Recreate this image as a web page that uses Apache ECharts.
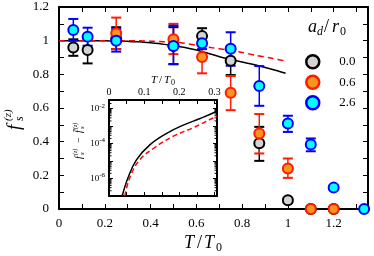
<!DOCTYPE html>
<html><head><meta charset="utf-8">
<script src="https://cdn.jsdelivr.net/npm/echarts@6.0.0/dist/echarts.min.js"></script>
<style>html,body{margin:0;padding:0;background:#fff}#c{width:374px;height:256px}</style>
</head><body><div id="c"></div>
<script>
// ---- data ----
const seriesNames = ['0.0', '0.6', '2.6'];
const gT  = [0.0625, 0.125, 0.25, 0.5, 0.625, 0.75, 0.875, 1.0, 1.1, 1.2];
const gY  = [0.96, 0.945, 1.01, 0.97, 1.027, 0.88, 0.39, 0.052, 0, 0];
const gLo = [0.91, 0.865, 0.95, 0.86, 0.98, 0.796, 0.286, 0.045, 0, 0];
const gHi = [1.008, 1.012, 1.08, 1.08, 1.074, 0.965, 0.488, 0.06, 0, 0];
const oT  = [0.25, 0.5, 0.625, 0.75, 0.875, 1.0, 1.1, 1.2];
const oY  = [1.044, 1.008, 0.903, 0.69, 0.449, 0.24, 0, 0];
const oLo = [0.95, 0.92, 0.806, 0.587, 0.33, 0.185, 0, 0];
const oHi = [1.137, 1.10, 1.0, 0.79, 0.564, 0.30, 0, 0];
const cT  = [0.0625, 0.125, 0.25, 0.5, 0.625, 0.75, 0.875, 1.0, 1.1, 1.2, 1.333];
const cY  = [1.064, 1.024, 1.0, 0.968, 0.984, 0.952, 0.73, 0.508, 0.383, 0.127, 0];
const cLo = [1.0, 0.97, 0.935, 0.861, 0.95, 0.851, 0.613, 0.458, 0.343, 0.115, 0];
const cHi = [1.129, 1.077, 1.07, 1.089, 1.02, 1.05, 0.849, 0.554, 0.419, 0.14, 0];
// main curves
const curveT = [0, 0.1, 0.2, 0.25, 0.3, 0.35, 0.4, 0.46, 0.53, 0.6, 0.67, 0.73, 0.8, 0.86, 0.93, 0.99];
const solidF = [1.0, 1.0, 0.999, 0.998, 0.996, 0.993, 0.987, 0.978, 0.964, 0.945, 0.918, 0.895, 0.873, 0.855, 0.83, 0.806];
const dashF  = [1.0, 1.0, 1.0, 1.0, 1.0, 0.999, 0.997, 0.993, 0.988, 0.973, 0.958, 0.946, 0.93, 0.913, 0.895, 0.879];
// inset curves
const inSolidT = [0.0375, 0.054, 0.078, 0.116, 0.164, 0.211, 0.259, 0.302, 0.307];
const inSolidV = [1.0e-7, 1.1e-6, 1.17e-5, 8.5e-5, 3.9e-4, 1.15e-3, 2.75e-3, 6.5e-3, 7.9e-3];
const inDashT  = [0.045, 0.059, 0.087, 0.13, 0.182, 0.24, 0.302, 0.307];
const inDashV  = [1.0e-7, 1.1e-6, 1.17e-5, 6.0e-5, 2.6e-4, 8.3e-4, 3.4e-3, 3.9e-3];

const FONT = '"Liberation Serif", "DejaVu Serif", serif';
const colors = {
  g: {fill: '#d3d3d3', edge: '#000000', bar: '#000000'},
  o: {fill: '#f7941d', edge: '#ff1a00', bar: '#ff1a00'},
  c: {fill: '#00ffff', edge: '#0000ff', bar: '#0000ff'}
};

function errSeries(ts, lo, hi, color) {
  return {
    type: 'custom', xAxisIndex: 0, yAxisIndex: 0, z: 3, silent: true, clip: false,
    data: ts.map((t, i) => [t, lo[i], hi[i]]),
    renderItem: (params, api) => {
      const x = api.value(0), l = api.value(1), h = api.value(2);
      if (h - l < 1e-9) return null;
      const p1 = api.coord([x, l]), p2 = api.coord([x, h]);
      const w = 5;
      return {type: 'group', children: [
        {type: 'line', shape: {x1: p1[0], y1: p1[1], x2: p2[0], y2: p2[1]}, style: {stroke: color, lineWidth: 1.5}},
        {type: 'line', shape: {x1: p1[0] - w, y1: p1[1], x2: p1[0] + w, y2: p1[1]}, style: {stroke: color, lineWidth: 2}},
        {type: 'line', shape: {x1: p2[0] - w, y1: p2[1], x2: p2[0] + w, y2: p2[1]}, style: {stroke: color, lineWidth: 2}}
      ]};
    }
  };
}
function scatter(name, ts, ys, c) {
  return {
    type: 'scatter', name, xAxisIndex: 0, yAxisIndex: 0, z: 4, clip: false, silent: true,
    symbol: 'circle', symbolSize: 10,
    itemStyle: {color: c.fill, borderColor: c.edge, borderWidth: 2, opacity: 1},
    data: ts.map((t, i) => [t, ys[i]])
  };
}
const mult = (v, step) => Math.abs(v / step - Math.round(v / step)) < 1e-6;
const fmtNum = v => String(+(+v).toFixed(2));

// minor log ticks for inset
const minorVals = [];
for (let e = -7; e <= -2; e++) for (let m = 2; m <= 9; m++) { const v = m * Math.pow(10, e); if (v < 0.0316) minorVals.push(v); }

const axisLineMain = {show: true, onZero: false, lineStyle: {color: '#000', width: 2}};
const tickMain = {show: true, inside: true, length: 5, lineStyle: {color: '#000', width: 1}};
const axisLineIn = {show: true, onZero: false, lineStyle: {color: '#000', width: 2}};
const tickIn = {show: true, inside: true, length: 4, lineStyle: {color: '#000', width: 1}};

const option = {
  animation: false,
  backgroundColor: '#fff',
  grid: [
    {left: 59, top: 7, width: 309, height: 202, show: false},
    {left: 109, top: 100, width: 108, height: 96, show: true, backgroundColor: '#fff', borderWidth: 0}
  ],
  xAxis: [
    {type: 'value', gridIndex: 0, min: 0, max: 1.35, interval: 0.1, position: 'bottom',
     axisLine: axisLineMain, axisTick: tickMain, splitLine: {show: false},
     axisLabel: {margin: 8, color: '#000', fontFamily: FONT, fontSize: 13, showMaxLabel: true,
       formatter: v => mult(v, 0.2) ? fmtNum(v) : ''}},
    {type: 'value', gridIndex: 0, min: 0, max: 1.35, interval: 0.1, position: 'top',
     axisLine: axisLineMain, axisTick: tickMain, splitLine: {show: false}, axisLabel: {show: false}},
    {type: 'value', gridIndex: 1, min: 0, max: 0.307, interval: 0.05, position: 'bottom',
     axisLine: axisLineIn, axisTick: tickIn, splitLine: {show: false}, axisLabel: {show: false}},
    {type: 'value', gridIndex: 1, min: 0, max: 0.307, interval: 0.05, position: 'top',
     axisLine: axisLineIn, axisTick: tickIn, splitLine: {show: false},
     axisLabel: {margin: 3, color: '#000', fontFamily: FONT, fontSize: 10,
       formatter: v => mult(v, 0.1) ? fmtNum(v) : ''}}
  ],
  yAxis: [
    {type: 'value', gridIndex: 0, min: 0, max: 1.2, interval: 0.1, position: 'left',
     axisLine: axisLineMain, axisTick: tickMain, splitLine: {show: false},
     axisLabel: {margin: 10, color: '#000', fontFamily: FONT, fontSize: 13,
       formatter: v => mult(v, 0.2) ? fmtNum(v) : ''}},
    {type: 'value', gridIndex: 0, min: 0, max: 1.2, interval: 0.1, position: 'right',
     axisLine: axisLineMain, axisTick: tickMain, splitLine: {show: false}, axisLabel: {show: false}},
    {type: 'log', logBase: 10, gridIndex: 1, min: 1e-7, max: 0.0316, interval: 1, position: 'left',
     axisLine: axisLineIn, axisTick: tickIn, splitLine: {show: false},
     axisLabel: {margin: 4, color: '#000', fontFamily: FONT, fontSize: 9,
       formatter: v => {
         const e = Math.log10(v); const r = Math.round(e);
         if (Math.abs(e - r) > 1e-6 || r % 2 !== 0) return '';
         return '10{s|' + r + '}';
       },
       rich: {s: {fontSize: 7, fontFamily: FONT, color: '#000', verticalAlign: 'top', padding: [0, 0, 6, 0]}}}},
    {type: 'log', logBase: 10, gridIndex: 1, min: 1e-7, max: 0.0316, interval: 1, position: 'right',
     axisLine: axisLineIn, axisTick: tickIn, splitLine: {show: false}, axisLabel: {show: false}}
  ],
  legend: {
    show: true, orient: 'vertical', left: 305, top: 54, padding: 0,
    itemWidth: 13, itemHeight: 13, itemGap: 5,
    selectedMode: false,
    textStyle: {fontFamily: FONT, fontSize: 13, color: '#000', lineHeight: 13, padding: [0, 0, 0, 15]},
    data: [
      {name: seriesNames[0], icon: 'circle', itemStyle: {color: colors.g.fill, borderColor: colors.g.edge, borderWidth: 2.5}},
      {name: seriesNames[1], icon: 'circle', itemStyle: {color: colors.o.fill, borderColor: colors.o.edge, borderWidth: 2.5}},
      {name: seriesNames[2], icon: 'circle', itemStyle: {color: colors.c.fill, borderColor: colors.c.edge, borderWidth: 2.5}}
    ]
  },
  graphic: [
    // main x name  T/T0
    {type: 'text', x: 184, y: 243, style: {text: 'T', font: 'italic 18px ' + FONT, fill: '#000', verticalAlign: 'middle'}},
    {type: 'text', x: 197, y: 243, style: {text: '/', font: '18px ' + FONT, fill: '#000', verticalAlign: 'middle'}},
    {type: 'text', x: 204, y: 243, style: {text: 'T', font: 'italic 18px ' + FONT, fill: '#000', verticalAlign: 'middle'}},
    {type: 'text', x: 216, y: 248, style: {text: '0', font: '12px ' + FONT, fill: '#000', verticalAlign: 'middle'}},
    // inset x name
    {type: 'text', x: 151, y: 80, style: {text: 'T', font: 'italic 11px ' + FONT, fill: '#000', verticalAlign: 'middle'}},
    {type: 'text', x: 159, y: 80, style: {text: '/', font: '11px ' + FONT, fill: '#000', verticalAlign: 'middle'}},
    {type: 'text', x: 164, y: 80, style: {text: 'T', font: 'italic 11px ' + FONT, fill: '#000', verticalAlign: 'middle'}},
    {type: 'text', x: 171, y: 83, style: {text: '0', font: '8px ' + FONT, fill: '#000', verticalAlign: 'middle'}},
    // legend title a_d/r_0
    {type: 'text', x: 308, y: 27, style: {text: 'a', font: 'italic 18px ' + FONT, fill: '#000', verticalAlign: 'middle'}},
    {type: 'text', x: 317, y: 32, style: {text: 'd', font: 'italic 12px ' + FONT, fill: '#000', verticalAlign: 'middle'}},
    {type: 'text', x: 324, y: 27, style: {text: '/', font: '18px ' + FONT, fill: '#000', verticalAlign: 'middle'}},
    {type: 'text', x: 332, y: 27, style: {text: 'r', font: 'italic 18px ' + FONT, fill: '#000', verticalAlign: 'middle'}},
    {type: 'text', x: 340, y: 32, style: {text: '0', font: '12px ' + FONT, fill: '#000', verticalAlign: 'middle'}},
    // main y name f_s^(z), rotated
    {type: 'group', x: 15, y: 112, rotation: Math.PI / 2, children: [
      {type: 'text', x: -18, y: 0, style: {text: 'f', font: 'italic 19px ' + FONT, fill: '#000', verticalAlign: 'middle'}},
      {type: 'text', x: -9, y: 5, style: {text: 's', font: 'italic 12px ' + FONT, fill: '#000', verticalAlign: 'middle'}},
      {type: 'text', x: -9, y: -7, style: {text: '(z)', font: 'italic 11px ' + FONT, fill: '#000', verticalAlign: 'middle'}}
    ]},
    // inset y name f_s^(z) - fbar_s^(z)
    {type: 'group', x: 79, y: 135, rotation: Math.PI / 2, children: [
      {type: 'text', x: -24, y: 0, style: {text: 'f', font: 'italic 10px ' + FONT, fill: '#000', verticalAlign: 'middle'}},
      {type: 'text', x: -20, y: 3, style: {text: 's', font: 'italic 7px ' + FONT, fill: '#000', verticalAlign: 'middle'}},
      {type: 'text', x: -20, y: -4, style: {text: '(z)', font: 'italic 6px ' + FONT, fill: '#000', verticalAlign: 'middle'}},
      {type: 'text', x: -8, y: 0, style: {text: '\u2212', font: '10px ' + FONT, fill: '#000', verticalAlign: 'middle'}},
      {type: 'text', x: 2, y: 0, style: {text: 'f\u0304', font: 'italic 10px ' + FONT, fill: '#000', verticalAlign: 'middle'}},
      {type: 'text', x: 6, y: 3, style: {text: 's', font: 'italic 7px ' + FONT, fill: '#000', verticalAlign: 'middle'}},
      {type: 'text', x: 6, y: -4, style: {text: '(z)', font: 'italic 6px ' + FONT, fill: '#000', verticalAlign: 'middle'}}
    ]}
  ],
  series: [
    {type: 'line', xAxisIndex: 0, yAxisIndex: 0, z: 2, symbol: 'none', smooth: 0.3, silent: true,
     lineStyle: {color: '#000', width: 1.5}, data: curveT.map((t, i) => [t, solidF[i]])},
    {type: 'line', xAxisIndex: 0, yAxisIndex: 0, z: 2, symbol: 'none', smooth: 0.3, silent: true,
     lineStyle: {color: '#ff0000', width: 1.5, type: [6, 4]}, data: curveT.map((t, i) => [t, dashF[i]])},
    errSeries(gT, gLo, gHi, colors.g.bar),
    errSeries(oT, oLo, oHi, colors.o.bar),
    errSeries(cT, cLo, cHi, colors.c.bar),
    scatter(seriesNames[0], gT, gY, colors.g),
    scatter(seriesNames[1], oT, oY, colors.o),
    scatter(seriesNames[2], cT, cY, colors.c),
    {type: 'line', xAxisIndex: 2, yAxisIndex: 2, z: 6, symbol: 'none', smooth: 0.4, silent: true, clip: true,
     lineStyle: {color: '#000', width: 1.5}, data: inSolidT.map((t, i) => [t, inSolidV[i]])},
    {type: 'line', xAxisIndex: 2, yAxisIndex: 2, z: 6, symbol: 'none', smooth: 0.4, silent: true, clip: true,
     lineStyle: {color: '#ff0000', width: 1.5, type: [5, 3]}, data: inDashT.map((t, i) => [t, inDashV[i]])},
    {type: 'custom', xAxisIndex: 2, yAxisIndex: 2, z: 6, silent: true, clip: false,
     data: minorVals.map(v => [0, v]),
     renderItem: (params, api) => {
       const cs = params.coordSys;
       const p = api.coord([0, api.value(1)]);
       return {type: 'group', children: [
         {type: 'line', shape: {x1: cs.x, y1: p[1], x2: cs.x + 2.5, y2: p[1]}, style: {stroke: '#000', lineWidth: 1}},
         {type: 'line', shape: {x1: cs.x + cs.width - 2.5, y1: p[1], x2: cs.x + cs.width, y2: p[1]}, style: {stroke: '#000', lineWidth: 1}}
       ]};
     }}
  ]
};
const chart = echarts.init(document.getElementById('c'), null, {renderer: 'canvas'});
chart.setOption(option);
</script>
</body></html>
